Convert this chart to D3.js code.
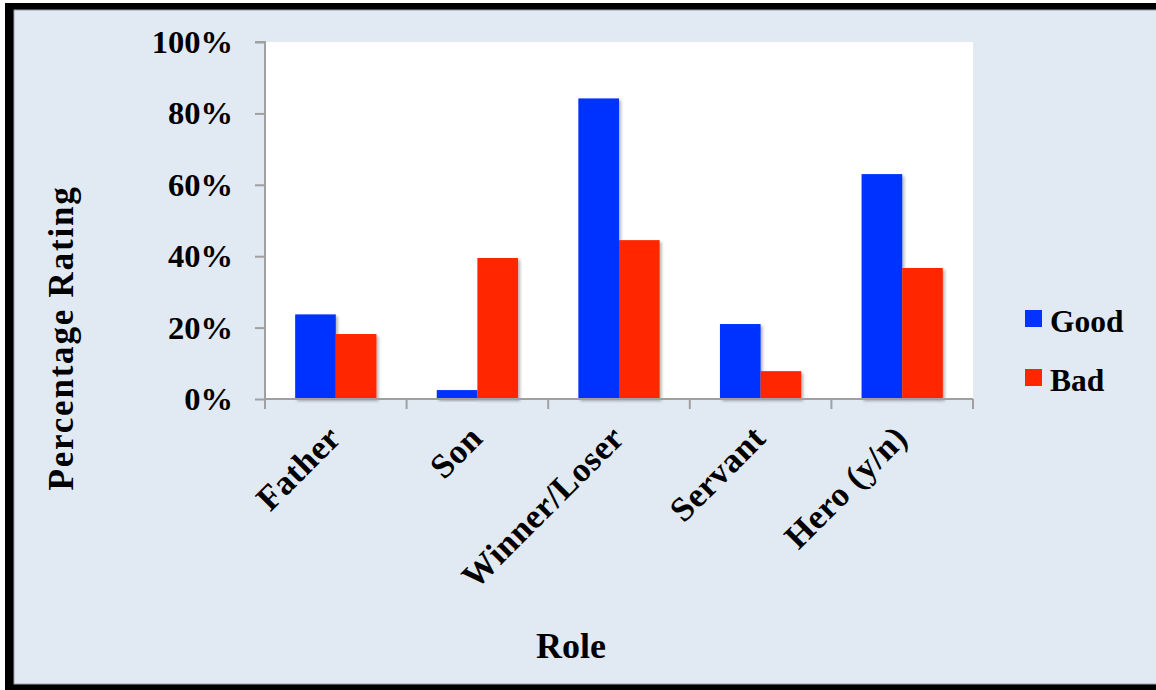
<!DOCTYPE html>
<html>
<head>
<meta charset="utf-8">
<script src="https://cdn.jsdelivr.net/npm/d3@7"></script>
<style>
  html, body { margin: 0; padding: 0; background: #ffffff; }
  svg { display: block; }
  text { font-family: "Liberation Serif", "Times New Roman", serif; font-weight: bold; fill: #000; }
</style>
</head>
<body>
<svg id="chart" width="1156" height="690"></svg>
<script>
// Ratings per role
const categories = ["Father", "Son", "Winner/Loser", "Servant", "Hero (y/n)"];
const goodValues = [0.237, 0.025, 0.842, 0.210, 0.630];
const badValues  = [0.182, 0.395, 0.445, 0.078, 0.367];
const seriesNames = ["Good", "Bad"];
const seriesColors = ["#0433ff", "#ff2600"];
const yTickValues = [0, 0.2, 0.4, 0.6, 0.8, 1.0];

const svg = d3.select("#chart");
const W = 1156, H = 690;

// Frame and background
svg.append("rect").attr("x", 5).attr("y", 3).attr("width", W).attr("height", H - 3).attr("fill", "#000");
svg.append("rect").attr("x", 14).attr("y", 10).attr("width", W).attr("height", 674)
  .attr("fill", "#e1e9f3").attr("stroke", "#9aa3ad").attr("stroke-width", 1);

// Soft shadow for bars
const defs = svg.append("defs");
const f = defs.append("filter").attr("id", "barShadow").attr("x", "-20%").attr("y", "-20%").attr("width", "150%").attr("height", "150%");
f.append("feDropShadow").attr("dx", 2).attr("dy", 2).attr("stdDeviation", 1.5)
  .attr("flood-color", "#000").attr("flood-opacity", 0.3);

const plot = { left: 265, right: 973, top: 42, bottom: 399 };

const x = d3.scaleBand().domain(categories).range([plot.left, plot.right]).paddingInner(0).paddingOuter(0);
const y = d3.scaleLinear().domain([0, 1]).range([plot.bottom, plot.top]);
const barW = x.bandwidth() * 0.287;
const xs = d3.scaleBand().domain(seriesNames).range([-barW, barW]);

// Plot area
svg.append("rect").attr("x", plot.left).attr("y", plot.top)
  .attr("width", plot.right - plot.left).attr("height", plot.bottom - plot.top).attr("fill", "#ffffff");

// Bars
const rows = categories.map((c, i) => ({ cat: c, vals: [goodValues[i], badValues[i]] }));
const groups = svg.append("g").selectAll("g").data(rows).join("g")
  .attr("transform", d => `translate(${x(d.cat) + x.bandwidth() / 2},0)`);
groups.selectAll("rect").data(d => d.vals.map((v, k) => ({ v, k })))
  .join("rect")
  .attr("x", d => xs(seriesNames[d.k]))
  .attr("width", xs.bandwidth())
  .attr("y", d => y(d.v))
  .attr("height", d => y(0) - y(d.v))
  .attr("fill", d => seriesColors[d.k])
  .attr("filter", "url(#barShadow)");

// Y axis
const yAxis = d3.axisLeft(y).tickValues(yTickValues).tickFormat(d3.format(".0%")).tickSize(10).tickPadding(22);
const gy = svg.append("g").attr("transform", `translate(${plot.left},0)`).call(yAxis);
gy.select(".domain").attr("stroke", "#a0a0a0").attr("stroke-width", 2).attr("d", `M-10,${plot.top}H0V${plot.bottom}`);
gy.selectAll(".tick line").attr("stroke", "#a0a0a0").attr("stroke-width", 2);
gy.selectAll(".tick text").style("font-family", '"Liberation Serif", serif').style("font-weight", "bold")
  .style("font-size", "32.5px").attr("dy", "0.32em");

// X axis: ticks at category boundaries
const gx = svg.append("g").attr("transform", `translate(0,${plot.bottom})`);
gx.append("line").attr("x1", plot.left).attr("x2", plot.right).attr("stroke", "#a0a0a0").attr("stroke-width", 2);
const bounds = categories.map(c => x(c)).concat([plot.right]);
gx.selectAll("line.tk").data(bounds).join("line").attr("class", "tk")
  .attr("x1", d => d).attr("x2", d => d).attr("y1", 0).attr("y2", 10)
  .attr("stroke", "#a0a0a0").attr("stroke-width", 2);
gx.selectAll("text").data(categories).join("text")
  .attr("transform", d => `translate(${x(d) + x.bandwidth() / 2 + 7},${41}) rotate(-45)`)
  .attr("text-anchor", "end")
  .style("font-size", "34.5px")
  .style("letter-spacing", "0.5px")
  .text(d => d);

// Axis titles
svg.append("text").attr("transform", "translate(73,338) rotate(-90)")
  .attr("text-anchor", "middle").style("font-size", "35px").style("letter-spacing", "1.8px")
  .text("Percentage Rating");
svg.append("text").attr("x", 571).attr("y", 658).attr("text-anchor", "middle")
  .style("font-size", "36px").text("Role");

// Legend
const legend = svg.append("g").attr("transform", "translate(1025,310)");
const li = legend.selectAll("g").data(seriesNames).join("g")
  .attr("transform", (d, i) => `translate(0,${i * 59})`);
li.append("rect").attr("width", 17).attr("height", 17).attr("fill", (d, i) => seriesColors[i]);
li.append("text").attr("x", 25).attr("y", 22).style("font-size", "31.5px").text(d => d);
</script>
</body>
</html>
